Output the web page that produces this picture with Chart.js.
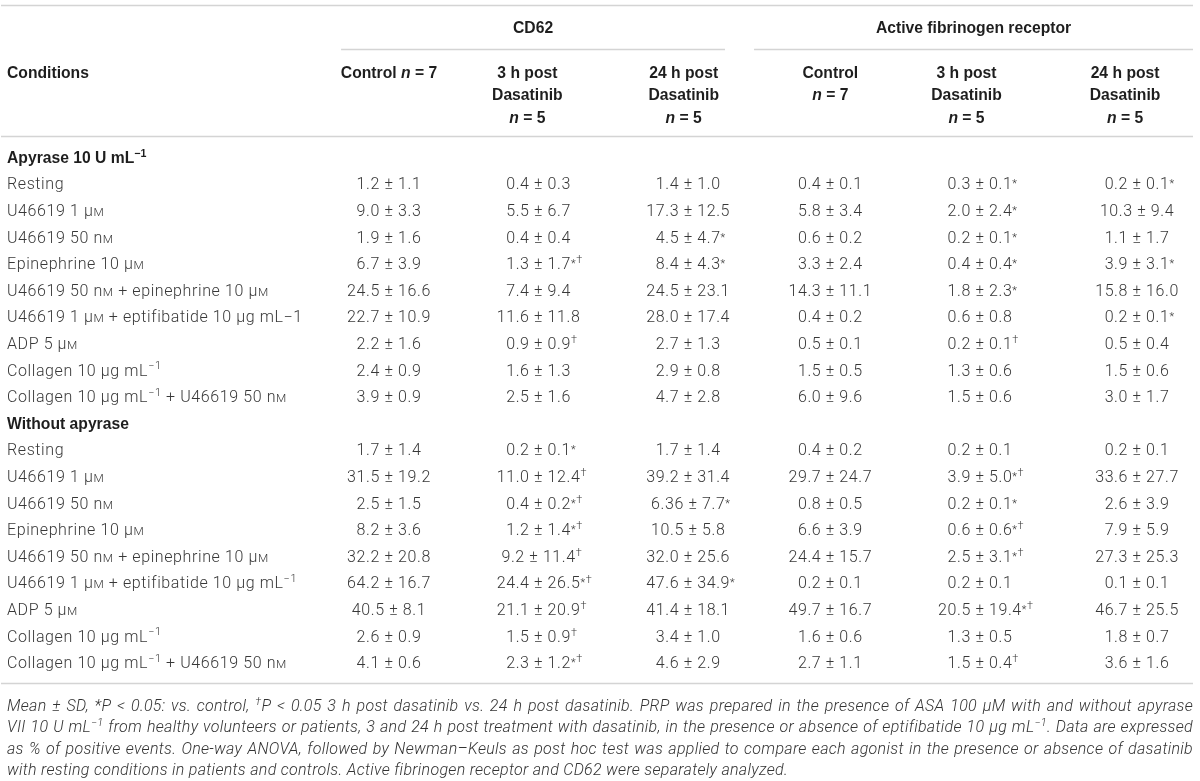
<!DOCTYPE html>
<html>
<head>
<meta charset="utf-8">
<script src="https://cdn.jsdelivr.net/npm/chart.js@4.4.1/dist/chart.umd.min.js"></script>
<style>
  html, body { margin: 0; padding: 0; background: #fff; }
  #wrap { position: relative; width: 1200px; height: 781px; }
</style>
</head>
<body>
<div id="wrap"><canvas id="tabla"></canvas></div>
<script>
// Markup inside strings: ^{..} superscript, ~{..} small caps, %{..} italic
const groupTitles = ['CD62', 'Active fibrinogen receptor'];
const columnHeads = [
  ['Control %{n} = 7'],
  ['3 h post', 'Dasatinib', '%{n} = 5'],
  ['24 h post', 'Dasatinib', '%{n} = 5'],
  ['Control', '%{n} = 7'],
  ['3 h post', 'Dasatinib', '%{n} = 5'],
  ['24 h post', 'Dasatinib', '%{n} = 5']
];
const firstHead = 'Conditions';
const sectionTitles = ['Apyrase 10 U mL^{−1}', 'Without apyrase'];

const conditionsApyrase = [
  'Resting', 'U46619 1 μ~{M}', 'U46619 50 n~{M}', 'Epinephrine 10 μ~{M}',
  'U46619 50 n~{M} + epinephrine 10 μ~{M}', 'U46619 1 μ~{M} + eptifibatide 10 μg mL−1',
  'ADP 5 μ~{M}', 'Collagen 10 μg mL^{−1}', 'Collagen 10 μg mL^{−1} + U46619 50 n~{M}'
];
const conditionsNoApyrase = [
  'Resting', 'U46619 1 μ~{M}', 'U46619 50 n~{M}', 'Epinephrine 10 μ~{M}',
  'U46619 50 n~{M} + epinephrine 10 μ~{M}', 'U46619 1 μ~{M} + eptifibatide 10 μg mL^{−1}',
  'ADP 5 μ~{M}', 'Collagen 10 μg mL^{−1}', 'Collagen 10 μg mL^{−1} + U46619 50 n~{M}'
];

// Apyrase 10 U/mL — mean ± SD (marks: * vs control, † 3 h vs 24 h)
const apyCd62Control = ['1.2 ± 1.1', '9.0 ± 3.3', '1.9 ± 1.6', '6.7 ± 3.9', '24.5 ± 16.6', '22.7 ± 10.9', '2.2 ± 1.6', '2.4 ± 0.9', '3.9 ± 0.9'];
const apyCd62Post3h = ['0.4 ± 0.3', '5.5 ± 6.7', '0.4 ± 0.4', '1.3 ± 1.7*†', '7.4 ± 9.4', '11.6 ± 11.8', '0.9 ± 0.9†', '1.6 ± 1.3', '2.5 ± 1.6'];
const apyCd62Post24h = ['1.4 ± 1.0', '17.3 ± 12.5', '4.5 ± 4.7*', '8.4 ± 4.3*', '24.5 ± 23.1', '28.0 ± 17.4', '2.7 ± 1.3', '2.9 ± 0.8', '4.7 ± 2.8'];
const apyFibControl = ['0.4 ± 0.1', '5.8 ± 3.4', '0.6 ± 0.2', '3.3 ± 2.4', '14.3 ± 11.1', '0.4 ± 0.2', '0.5 ± 0.1', '1.5 ± 0.5', '6.0 ± 9.6'];
const apyFibPost3h = ['0.3 ± 0.1*', '2.0 ± 2.4*', '0.2 ± 0.1*', '0.4 ± 0.4*', '1.8 ± 2.3*', '0.6 ± 0.8', '0.2 ± 0.1†', '1.3 ± 0.6', '1.5 ± 0.6'];
const apyFibPost24h = ['0.2 ± 0.1*', '10.3 ± 9.4', '1.1 ± 1.7', '3.9 ± 3.1*', '15.8 ± 16.0', '0.2 ± 0.1*', '0.5 ± 0.4', '1.5 ± 0.6', '3.0 ± 1.7'];

// Without apyrase
const noCd62Control = ['1.7 ± 1.4', '31.5 ± 19.2', '2.5 ± 1.5', '8.2 ± 3.6', '32.2 ± 20.8', '64.2 ± 16.7', '40.5 ± 8.1', '2.6 ± 0.9', '4.1 ± 0.6'];
const noCd62Post3h = ['0.2 ± 0.1*', '11.0 ± 12.4†', '0.4 ± 0.2*†', '1.2 ± 1.4*†', '9.2 ± 11.4†', '24.4 ± 26.5*†', '21.1 ± 20.9†', '1.5 ± 0.9†', '2.3 ± 1.2*†'];
const noCd62Post24h = ['1.7 ± 1.4', '39.2 ± 31.4', '6.36 ± 7.7*', '10.5 ± 5.8', '32.0 ± 25.6', '47.6 ± 34.9*', '41.4 ± 18.1', '3.4 ± 1.0', '4.6 ± 2.9'];
const noFibControl = ['0.4 ± 0.2', '29.7 ± 24.7', '0.8 ± 0.5', '6.6 ± 3.9', '24.4 ± 15.7', '0.2 ± 0.1', '49.7 ± 16.7', '1.6 ± 0.6', '2.7 ± 1.1'];
const noFibPost3h = ['0.2 ± 0.1', '3.9 ± 5.0*†', '0.2 ± 0.1*', '0.6 ± 0.6*†', '2.5 ± 3.1*†', '0.2 ± 0.1', '20.5 ± 19.4*†', '1.3 ± 0.5', '1.5 ± 0.4†'];
const noFibPost24h = ['0.2 ± 0.1', '33.6 ± 27.7', '2.6 ± 3.9', '7.9 ± 5.9', '27.3 ± 25.3', '0.1 ± 0.1', '46.7 ± 25.5', '1.8 ± 0.7', '3.6 ± 1.6'];

const footnoteLines = [
  'Mean ± SD, *P < 0.05: vs. control, ^{†}P < 0.05 3 h post dasatinib vs. 24 h post dasatinib. PRP was prepared in the presence of ASA 100 μM with and without apyrase',
  'VII 10 U mL^{−1} from healthy volunteers or patients, 3 and 24 h post treatment with dasatinib, in the presence or absence of eptifibatide 10 μg mL^{−1}. Data are expressed',
  'as % of positive events. One-way ANOVA, followed by Newman–Keuls as post hoc test was applied to compare each agonist in the presence or absence of dasatinib',
  'with resting conditions in patients and controls. Active fibrinogen receptor and CD62 were separately analyzed.'
];

// ---- layout (scale units) ----
const X_MIN = -2.553, X_MAX = 5.374;
const Y_MIN = -5.902, Y_MAX = 23.459;
const COL_AT = [0, 1, 2, 2.95, 3.95, 5];          // value cells
const HEAD_AT = [0, 0.925, 1.97, 2.95, 3.86, 4.92]; // column heads
const GROUP_SPAN = [[-0.32, 2.246], [2.44, X_MAX]];
const Y_TOP_RULE = -5.71, Y_GROUP = -4.89, Y_GROUP_RULE = -4.06;
const Y_HEAD_LINES = [-3.2, -2.37, -1.5];
const Y_HEAD_RULE = -0.79, Y_FOOT_RULE = 19.77, Y_NOTE0 = 20.6, NOTE_STEP = 0.81;

const BODY = { style: 'normal', weight: 300, size: 16, family: 'Roboto', color: '#383838', ls: 0.6 };
const BOLD = { style: 'normal', weight: 'bold', size: 15.7, family: '"Liberation Sans"', color: '#1e1e1e', ls: 0 };
const NOTE = { style: 'italic', weight: 300, size: 16, family: 'Roboto', color: '#333', ls: 0.3 };

function parts(str) {
  const out = [];
  const re = /([\^~%])\{(.*?)\}/g;
  let last = 0, m;
  while ((m = re.exec(str))) {
    if (m.index > last) out.push({ t: str.slice(last, m.index), k: '' });
    out.push({ t: m[2], k: m[1] });
    last = re.lastIndex;
  }
  if (last < str.length) out.push({ t: str.slice(last), k: '' });
  return out;
}
function setFont(ctx, f, k) {
  let size = f.size, style = f.style;
  if (k === '^') size = f.size * 0.68;
  if (k === '~') size = f.size * 0.74;
  if (k === '%') style = 'italic';
  ctx.font = `${style} ${f.weight} ${size}px ${f.family}`;
  ctx.letterSpacing = f.ls + 'px';
}
function richWidth(ctx, str, f) {
  return parts(str).reduce((w, p) => { setFont(ctx, f, p.k); return w + ctx.measureText(p.t).width; }, 0);
}
// y is the visual middle of the line
function drawRich(ctx, str, x, y, f, align) {
  if (align === 'center') x -= richWidth(ctx, str, f) / 2;
  const base = y + f.size * 0.36;
  ctx.fillStyle = f.color;
  ctx.textBaseline = 'alphabetic';
  ctx.textAlign = 'left';
  parts(str).forEach(p => {
    setFont(ctx, f, p.k);
    ctx.fillText(p.t, x, p.k === '^' ? base - f.size * 0.38 : base);
    x += ctx.measureText(p.t).width;
  });
}
function drawValue(ctx, str, x, y) {
  const m = str.match(/^(.*?)([*†]*)$/);
  const main = m[1], mark = m[2];
  const w = richWidth(ctx, main, BODY);
  drawRich(ctx, main, x - w / 2, y, BODY, 'left');
  if (mark) {
    const base = y + BODY.size * 0.36;
    setFont(ctx, BODY, '^');
    let mx = x + w / 2;
    for (const ch of mark) {
      ctx.fillText(ch, mx, base - BODY.size * (ch === '*' ? 0.12 : 0.36));
      mx += ctx.measureText(ch).width;
    }
  }
}

// ---- datasets built from the arrays ----
const columns = [
  [apyCd62Control, noCd62Control], [apyCd62Post3h, noCd62Post3h], [apyCd62Post24h, noCd62Post24h],
  [apyFibControl, noFibControl], [apyFibPost3h, noFibPost3h], [apyFibPost24h, noFibPost24h]
];
const rowStart = [0, 1 + conditionsApyrase.length];
const labelPoints = [];
[conditionsApyrase, conditionsNoApyrase].forEach((conds, s) => {
  labelPoints.push({ x: X_MIN, y: rowStart[s], text: sectionTitles[s], bold: true });
  conds.forEach((c, i) => labelPoints.push({ x: X_MIN, y: rowStart[s] + 1 + i, text: c, bold: false }));
});
const datasets = [{ label: 'conditions', data: labelPoints, pointRadius: 0 }];
columns.forEach((pair, c) => {
  const pts = [];
  pair.forEach((vals, s) => vals.forEach((v, i) => pts.push({ x: COL_AT[c], y: rowStart[s] + 1 + i, text: v })));
  datasets.push({ label: 'col' + c, data: pts, pointRadius: 0 });
});

const tablePlugin = {
  id: 'tabla',
  afterDatasetsDraw(chart) {
    const { ctx, chartArea, scales: { x, y } } = chart;
    ctx.save();
    // rules
    ctx.strokeStyle = '#d4d4d4';
    ctx.lineWidth = 1.5;
    const rule = (x0, x1, yv) => {
      const py = Math.round(y.getPixelForValue(yv)) + 0.5;
      ctx.beginPath(); ctx.moveTo(x0, py); ctx.lineTo(x1, py); ctx.stroke();
    };
    [Y_TOP_RULE, Y_HEAD_RULE, Y_FOOT_RULE].forEach(v => rule(chartArea.left - 6, chartArea.right, v));
    GROUP_SPAN.forEach(sp => rule(x.getPixelForValue(sp[0]), x.getPixelForValue(sp[1]), Y_GROUP_RULE));
    // heads
    groupTitles.forEach((g, i) => {
      const cx = (x.getPixelForValue(GROUP_SPAN[i][0]) + x.getPixelForValue(GROUP_SPAN[i][1])) / 2;
      drawRich(ctx, g, cx, y.getPixelForValue(Y_GROUP), BOLD, 'center');
    });
    drawRich(ctx, firstHead, chartArea.left, y.getPixelForValue(Y_HEAD_LINES[0]), BOLD, 'left');
    columnHeads.forEach((lines, c) => lines.forEach((ln, j) =>
      drawRich(ctx, ln, x.getPixelForValue(HEAD_AT[c]), y.getPixelForValue(Y_HEAD_LINES[j]), BOLD, 'center')));
    // cells
    chart.data.datasets.forEach((ds, di) => {
      chart.getDatasetMeta(di).data.forEach((pt, i) => {
        const cell = ds.data[i];
        if (di === 0) drawRich(ctx, cell.text, pt.x, pt.y, cell.bold ? BOLD : BODY, 'left');
        else drawValue(ctx, cell.text, pt.x, pt.y);
      });
    });
    // footnote, justified except last line
    const full = chartArea.right - chartArea.left;
    footnoteLines.forEach((ln, i) => {
      const py = y.getPixelForValue(Y_NOTE0 + i * NOTE_STEP);
      const words = ln.split(' ');
      const widths = words.map(w => richWidth(ctx, w, NOTE));
      setFont(ctx, NOTE, '');
      const space = ctx.measureText(' ').width;
      const gap = i < footnoteLines.length - 1
        ? (full - widths.reduce((a, b) => a + b, 0)) / (words.length - 1) : space;
      let px = chartArea.left;
      words.forEach((w, k) => { drawRich(ctx, w, px, py, NOTE, 'left'); px += widths[k] + gap; });
    });
    ctx.restore();
  }
};

new Chart(document.getElementById('tabla'), {
  type: 'scatter',
  data: { datasets },
  options: {
    responsive: true,
    maintainAspectRatio: false,
    animation: false,
    layout: { padding: { left: 7, right: 7, top: 0, bottom: 0 } },
    scales: {
      x: { type: 'linear', min: X_MIN, max: X_MAX, display: false },
      y: { type: 'linear', min: Y_MIN, max: Y_MAX, reverse: true, display: false }
    },
    plugins: { legend: { display: false }, tooltip: { enabled: false } }
  },
  plugins: [tablePlugin]
});
</script>
</body>
</html>
